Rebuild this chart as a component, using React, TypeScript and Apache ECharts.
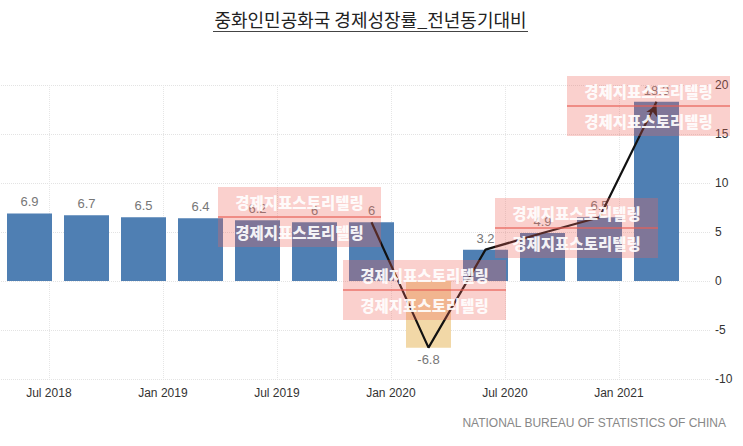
import React, { useEffect, useRef } from 'react';
import * as echarts from 'echarts';

const quarters = ['2018 Q2', '2018 Q3', '2018 Q4', '2019 Q1', '2019 Q2', '2019 Q3', '2019 Q4', '2020 Q1', '2020 Q2', '2020 Q3', '2020 Q4', '2021 Q1'];
const growth = [6.9, 6.7, 6.5, 6.4, 6.2, 6, 6, -6.8, 3.2, 4.9, 6.5, 18.3];
const highlightIndex = 7;
const trendStart = 6;
const dateLabels = ['Jul 2018', 'Jan 2019', 'Jul 2019', 'Jan 2020', 'Jul 2020', 'Jan 2021'];
const yMin = -10;
const yMax = 20;
const yStep = 5;
const titleText = '중화인민공화국 경제성장률_전년동기대비';
const sourceText = 'NATIONAL BUREAU OF STATISTICS OF CHINA';
const watermarkText = '경제지표스토리텔링';

// layout constants
const labelOffset = 0.34; // position of first date label in bar-index units
const labelStep = 2; // two quarters per half-year label
const watermarkBoxes = [
  [218, 187],
  [343, 260],
  [495, 198],
  [567, 76],
];

export default function App() {
  const ref = useRef<HTMLDivElement>(null);
  useEffect(() => {
    if (!ref.current) return;
    const chart = echarts.init(ref.current, undefined, { renderer: 'svg' });
    const labelPos = dateLabels.map((_, k) => labelOffset + k * labelStep);
    const barData = growth.map((v, i) => ({
      name: quarters[i],
      value: [i, v],
      itemStyle: i === highlightIndex ? { color: '#f2d8a7' } : undefined,
      label: { position: v < 0 ? 'bottom' : 'top' },
    }));
    const lineData = growth.slice(trendStart).map((v, k) => {
      const idx = trendStart + k;
      const isLast = idx === growth.length - 1;
      return isLast
        ? { value: [idx, v], symbol: 'arrow', symbolSize: [9, 11], symbolRotate: -26, symbolOffset: [0, 3] }
        : { value: [idx, v], symbol: 'none' };
    });

    const wmText = (y: number) => ({
      type: 'text',
      x: 81.5,
      y,
      z: 102,
      style: {
        text: watermarkText,
        fontFamily: '"Noto Sans CJK KR"',
        fontWeight: 900,
        fontSize: 15.5,
        fill: 'rgba(255,255,255,0.92)',
        align: 'center',
        verticalAlign: 'middle',
        textAlign: 'center',
        textVerticalAlign: 'middle',
      },
    });
    const watermarks = watermarkBoxes.map(([x, y]) => ({
      type: 'group',
      x,
      y,
      z: 100,
      children: [
        { type: 'rect', shape: { x: 0, y: 0, width: 163, height: 60 }, style: { fill: 'rgba(240,100,90,0.30)' }, z: 100 },
        { type: 'line', shape: { x1: 0, y1: 30, x2: 163, y2: 30 }, style: { stroke: 'rgba(232,95,85,0.6)', lineWidth: 2 }, z: 101 },
        wmText(15),
        wmText(45),
      ],
    }));

    chart.setOption({
      animation: false,
      backgroundColor: '#ffffff',
      textStyle: { fontFamily: '"Liberation Sans", Arial, sans-serif' },
      grid: { left: 1, right: 32, top: 85, bottom: 67, containLabel: false },
      xAxis: {
        type: 'value',
        min: -0.5,
        max: 11.956,
        axisLine: { show: false },
        axisTick: { show: false, customValues: labelPos },
        axisLabel: {
          customValues: labelPos,
          formatter: (v: number) => dateLabels[Math.round((v - labelOffset) / labelStep)] ?? '',
          color: '#333',
          fontSize: 12,
          margin: 8,
        },
        splitLine: { show: true, lineStyle: { color: '#e6e6e6', type: 'dotted' } },
      },
      yAxis: {
        type: 'value',
        position: 'right',
        min: yMin,
        max: yMax,
        interval: yStep,
        axisLine: { show: false },
        axisTick: { show: false },
        axisLabel: { color: '#333', fontSize: 12, margin: 4 },
        splitLine: { show: true, lineStyle: { color: '#e3e3e3', type: 'dotted' } },
      },
      series: [
        {
          type: 'bar',
          data: barData,
          barWidth: 45,
          itemStyle: { color: '#4f7fb3' },
          label: {
            show: true,
            color: '#777',
            fontSize: 13,
            distance: 5,
            formatter: (p: any) => String(p.value[1]),
          },
          z: 2,
        },
        {
          type: 'line',
          data: lineData,
          lineStyle: { color: '#111', width: 2.2 },
          itemStyle: { color: '#111' },
          showSymbol: true,
          z: 5,
        },
      ],
      graphic: [
        {
          type: 'text',
          x: 370.5,
          y: 18.5,
          style: { text: titleText, fontFamily: '"Noto Sans CJK KR"', fontSize: 18, fill: '#222', align: 'center', verticalAlign: 'middle', textAlign: 'center', textVerticalAlign: 'middle' },
        },
        { type: 'line', shape: { x1: 213, y1: 31.5, x2: 528, y2: 31.5 }, style: { stroke: '#444', lineWidth: 1 } },
        {
          type: 'text',
          x: 726,
          y: 423,
          style: { text: sourceText, font: '12px "Liberation Sans", Arial, sans-serif', fill: '#888', align: 'right', verticalAlign: 'middle', textAlign: 'right', textVerticalAlign: 'middle' },
        },
        ...watermarks,
      ],
    });
    return () => chart.dispose();
  }, []);
  return <div ref={ref} style={{ position: 'absolute', left: 0, top: 0, width: 743, height: 446 }} />;
}
